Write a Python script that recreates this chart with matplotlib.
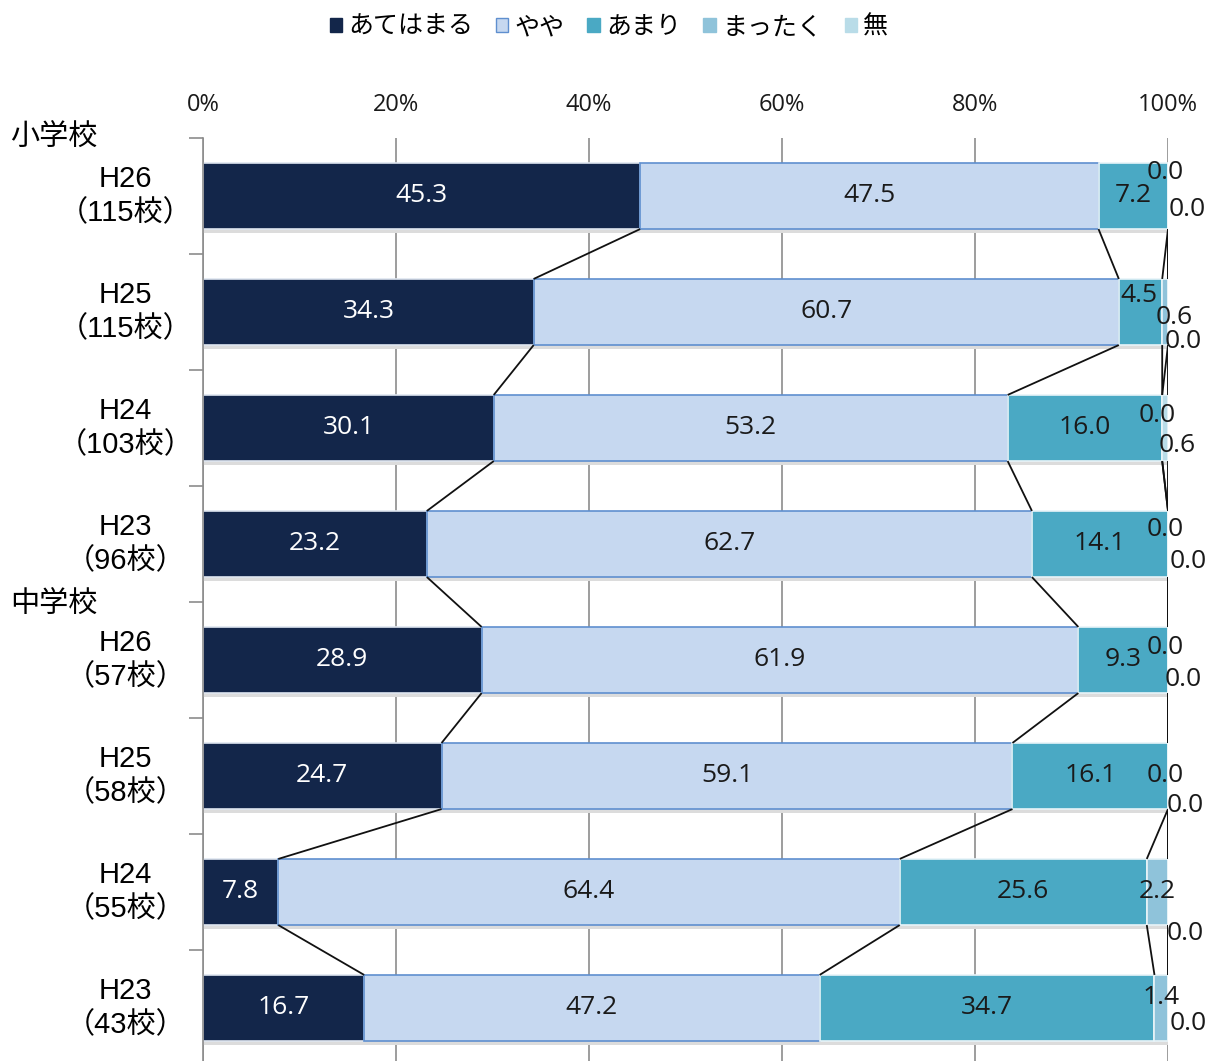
import matplotlib
matplotlib.use("Agg")
import matplotlib.pyplot as plt
import numpy as np
from matplotlib.patches import Patch

plt.rcParams["font.family"] = ["Noto Sans CJK JP", "DejaVu Sans"]
SANS = ["Liberation Sans", "Noto Sans CJK JP"]
NUMS = ["Open Sans", "DejaVu Sans"]

SERIES = ["あてはまる", "やや", "あまり", "まったく", "無"]
ROW_LABELS = ["H26\n（115校）", "H25\n（115校）", "H24\n（103校）", "H23\n（96校）",
              "H26\n（57校）", "H25\n（58校）", "H24\n（55校）", "H23\n（43校）"]
GROUPS = ["小学校", "中学校"]

atehamaru = [45.3, 34.3, 30.1, 23.2, 28.9, 24.7, 7.8, 16.7]
yaya = [47.5, 60.7, 53.2, 62.7, 61.9, 59.1, 64.4, 47.2]
amari = [7.2, 4.5, 16.0, 14.1, 9.3, 16.1, 25.6, 34.7]
mattaku = [0.0, 0.6, 0.0, 0.0, 0.0, 0.0, 2.2, 1.4]
nashi = [0.0, 0.0, 0.6, 0.0, 0.0, 0.0, 0.0, 0.0]

COLORS = ["#13264a", "#c6d8f0", "#4aa9c4", "#8fc3da", "#b9dce8"]
EDGES = ["#dfe6f0", "#5f8fcf", "#e8f4f8", "#e8f4f8", "#e8f4f8"]
TEXT_COLORS = ["white", "#1a1a1a", "#1a1a1a", "#1a1a1a", "#1a1a1a"]

# label nudges in pixels (dx, dy; dy positive = down), for the thin segments
NUDGE = [
    [(0, 0), (0, 0), (0, 0), (-3, -23), (19, 14)],
    [(0, 0), (0, 0), (-2, -16), (9, 6), (15, 30)],
    [(0, 0), (0, 0), (0, 0), (-5, -12), (12, 18)],
    [(0, 0), (0, 0), (0, 0), (-3, -15), (20, 17)],
    [(0, 0), (0, 0), (0, 0), (-3, -12), (15, 20)],
    [(0, 0), (0, 0), (0, 0), (-3, 0), (17, 29)],
    [(0, 0), (0, 0), (0, 0), (0, 0), (17, 41)],
    [(0, 0), (0, 0), (0, 0), (0, -10), (20, 15)],
]

W, H = 1218, 1061
fig = plt.figure(figsize=(W / 100, H / 100), dpi=100)
ax = fig.add_axes([203 / W, (H - 1066) / H, (1168 - 203) / W, 928 / H])

vals = np.array([atehamaru, yaya, amari, mattaku, nashi])
pct = vals / vals.sum(axis=0) * 100
cum = np.cumsum(pct, axis=0)
left = cum - pct
y = np.arange(len(ROW_LABELS))
bh = 0.57

# shadow under the bars
ax.barh(y + 0.035, 100, height=bh, color="#dcdcdc", zorder=1)
for k, name in enumerate(SERIES):
    ax.barh(y, pct[k], left=left[k], height=bh, color=COLORS[k],
            edgecolor=EDGES[k], linewidth=1.2, label=name, zorder=2)

# series lines between bars
for i in range(len(y) - 1):
    for k in range(len(SERIES)):
        ax.plot([cum[k, i], cum[k, i + 1]], [y[i] + bh / 2, y[i + 1] - bh / 2],
                color="#111111", lw=1.3, zorder=3, solid_capstyle="butt")

for i in range(len(y)):
    for k in range(len(SERIES)):
        dx, dy = NUDGE[i][k]
        ax.annotate(f"{vals[k, i]:.1f}", (left[k, i] + pct[k, i] / 2, y[i]),
                    xytext=(dx * 0.72, -dy * 0.72), textcoords="offset points",
                    ha="center", va="center", fontsize=19,
                    color=TEXT_COLORS[k], family=NUMS,
                    zorder=5, annotation_clip=False)

ax.set_xlim(0, 100)
ax.set_ylim(len(y) - 0.5, -0.5)
ax.set_xticks(np.arange(0, 101, 20))
ax.set_xticklabels([f"{v}%" for v in range(0, 101, 20)], fontsize=17, family=NUMS)
ax.xaxis.tick_top()
ax.tick_params(axis="x", length=0, pad=15, colors="#1a1a1a")
ax.grid(axis="x", color="#8c8c8c", lw=1.2, zorder=0)
ax.set_axisbelow(True)

ax.set_yticks(np.arange(len(y) + 1) - 0.5)
ax.set_yticklabels([])
ax.tick_params(axis="y", length=10, width=1.2, color="#8c8c8c")
for i, lab in enumerate(ROW_LABELS):
    ax.text(-8.0, y[i], lab, ha="center", va="center", fontsize=21,
            linespacing=1.27, family=SANS, clip_on=False)

for s in ["top", "right", "bottom"]:
    ax.spines[s].set_visible(False)
ax.spines["left"].set_color("#8c8c8c")
ax.spines["left"].set_linewidth(1.2)

fig.text(10 / W, 1 - 138 / H, GROUPS[0], fontsize=21, va="center", ha="left")
fig.text(10 / W, 1 - 605 / H, GROUPS[1], fontsize=21, va="center", ha="left")

handles = [Patch(facecolor=COLORS[k], edgecolor=EDGES[k] if k == 1 else COLORS[k],
                 label=SERIES[k]) for k in range(len(SERIES))]
fig.legend(handles=handles, loc="center", bbox_to_anchor=(609 / W, 1 - 27 / H),
           ncol=5, frameon=False, fontsize=18, handlelength=0.5, handleheight=0.5,
           handletextpad=0.25, columnspacing=0.9)

fig.savefig("out.png", dpi=100)
